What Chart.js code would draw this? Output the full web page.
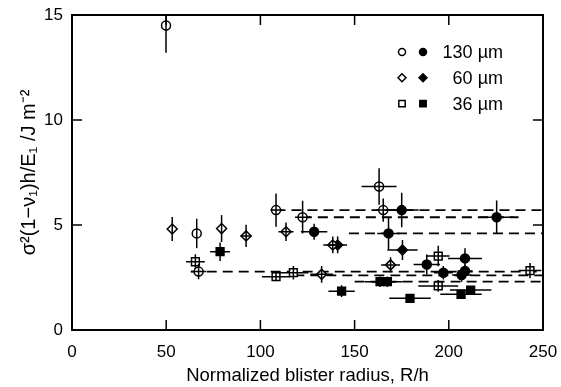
<!DOCTYPE html>
<html lang="en">
<head>
<meta charset="UTF-8">
<title>Blister adhesion</title>
<style>
  html, body { margin: 0; padding: 0; background: #fff; }
  #wrap { width: 561px; height: 387px; }
</style>
</head>
<body>
<div id="wrap"><canvas id="myChart"></canvas></div>

<script src="https://cdn.jsdelivr.net/npm/chart.js"></script>
<script>
// rows: [R/h, value, error in R/h, error in value]
const open130 = [
    [49.9, 14.5, 0, 1.3],
    [66.2, 4.6, 0, 0.7],
    [67.2, 2.78, 4, 0.36],
    [108.3, 5.71, 3, 0.79],
    [122.4, 5.37, 4, 0.78],
    [163, 6.83, 9.3, 0.87],
    [165.2, 5.71, 4, 0.55]
];
const filled130 = [
    [128.5, 4.68, 7, 0.38],
    [168, 4.6, 6, 0.78],
    [175, 5.71, 9, 0.82],
    [188.3, 3.12, 7, 0.47],
    [208.6, 3.41, 9, 0.48],
    [225.4, 5.37, 9, 0.8],
    [197.1, 2.73, 5, 0.32],
    [206.8, 2.62, 5, 0.32],
    [208.6, 2.81, 4, 0.3]
];
const open60 = [
    [53.2, 4.81, 0, 0.57],
    [79.4, 4.83, 0, 0.64],
    [92.4, 4.48, 3, 0.53],
    [113.6, 4.68, 4, 0.44],
    [138.4, 4.05, 5, 0.4],
    [132.5, 2.65, 6, 0.4],
    [169.1, 3.1, 5, 0.36]
];
const filled60 = [
    [141, 4.05, 5, 0.4],
    [175.4, 3.81, 8, 0.48]
];
const open36 = [
    [65.5, 3.25, 5, 0.36],
    [108.3, 2.54, 7.5, 0.22],
    [117.5, 2.73, 8, 0.32],
    [194.4, 3.52, 6, 0.49],
    [194.4, 2.1, 10.6, 0.28],
    [243.1, 2.83, 6, 0.36]
];
const filled36 = [
    [78.6, 3.73, 5.3, 0.44],
    [143.1, 1.85, 7, 0.28],
    [163.5, 2.3, 8, 0.25],
    [167.4, 2.3, 8, 0.25],
    [179.4, 1.51, 11, 0.2],
    [206.5, 1.7, 11, 0.2],
    [211.6, 1.9, 11, 0.2]
];
// mean levels: [from R/h, to R/h, value]
const fits = [
    [108, 250, 5.71],
    [122, 237, 5.37],
    [147, 250, 4.6],
    [63, 250, 2.78],
    [118, 250, 2.6],
    [150, 250, 2.3]
];
const xTicks = [0, 50, 100, 150, 200, 250];
const yTicks = [0, 5, 10, 15];
const legendRows = [
    { label: '130 \u00b5m', style: 'circle', radius: 4.5 },
    { label: '60 \u00b5m', style: 'rectRot', radius: 5 },
    { label: '36 \u00b5m', style: 'rect', radius: 5.5 }
];

const FONT = 'Liberation Sans, Arial, sans-serif';

function pointSet(rows, style, radius, filled) {
    return {
        type: 'scatter',
        rows: rows,
        data: rows.map(r => ({ x: r[0], y: r[1] })),
        pointStyle: style,
        pointRadius: radius,
        pointHoverRadius: radius,
        borderWidth: 1.5,
        borderColor: '#000',
        backgroundColor: filled ? '#000' : '#fff',
        order: 1
    };
}

const fitSets = fits.map(f => ({
    type: 'line',
    data: [{ x: f[0], y: f[2] }, { x: f[1], y: f[2] }],
    borderColor: '#000',
    borderWidth: 1.8,
    borderDash: [10, 6],
    pointRadius: 0,
    fill: false,
    order: 5
}));

// error bars go on top so the open symbols show a cross through them
const errorBars = {
    id: 'errorBars',
    afterDatasetsDraw(chart) {
        const { ctx, chartArea: a, scales: { x, y } } = chart;
        ctx.save();
        ctx.beginPath();
        ctx.rect(a.left, a.top, a.width, a.height);
        ctx.clip();
        ctx.strokeStyle = '#000';
        ctx.lineWidth = 1.5;
        chart.data.datasets.forEach(ds => {
            if (!ds.rows) return;
            ds.rows.forEach(([vx, vy, ex, ey]) => {
                ctx.beginPath();
                if (ex) {
                    ctx.moveTo(x.getPixelForValue(vx - ex), y.getPixelForValue(vy));
                    ctx.lineTo(x.getPixelForValue(vx + ex), y.getPixelForValue(vy));
                }
                if (ey) {
                    ctx.moveTo(x.getPixelForValue(vx), y.getPixelForValue(vy - ey));
                    ctx.lineTo(x.getPixelForValue(vx), y.getPixelForValue(vy + ey));
                }
                ctx.stroke();
            });
        });
        ctx.restore();
    }
};

// box around the plot with inward ticks on all four sides
const frame = {
    id: 'frame',
    afterDraw(chart) {
        const { ctx, chartArea: a, scales: { x, y } } = chart;
        ctx.save();
        ctx.strokeStyle = '#000';
        ctx.lineWidth = 2;
        ctx.strokeRect(a.left, a.top, a.width, a.height);
        ctx.lineWidth = 1.5;
        ctx.beginPath();
        xTicks.slice(1, -1).forEach(v => {
            const px = x.getPixelForValue(v);
            ctx.moveTo(px, a.bottom); ctx.lineTo(px, a.bottom - 10);
            ctx.moveTo(px, a.top); ctx.lineTo(px, a.top + 10);
        });
        yTicks.slice(1, -1).forEach(v => {
            const py = y.getPixelForValue(v);
            ctx.moveTo(a.left, py); ctx.lineTo(a.left + 10, py);
            ctx.moveTo(a.right, py); ctx.lineTo(a.right - 10, py);
        });
        ctx.stroke();
        ctx.restore();
    }
};

// key: open and filled symbol side by side, then the thickness
const keyBox = {
    id: 'keyBox',
    afterDraw(chart) {
        const { ctx, chartArea: a } = chart;
        ctx.save();
        ctx.font = '18px ' + FONT;
        ctx.textAlign = 'right';
        ctx.textBaseline = 'middle';
        legendRows.forEach((row, i) => {
            const cy = a.top + 37 + i * 25.8;
            ctx.lineWidth = 1.5;
            ctx.strokeStyle = '#000';
            ctx.fillStyle = '#fff';
            Chart.helpers.drawPoint(ctx, { pointStyle: row.style, radius: row.radius - 1, borderWidth: 1.5 }, a.right - 141, cy);
            ctx.fillStyle = '#000';
            Chart.helpers.drawPoint(ctx, { pointStyle: row.style, radius: row.radius - 1, borderWidth: 1.5 }, a.right - 120, cy);
            ctx.fillText(row.label, a.right - 40, cy + 1);
        });
        ctx.restore();
    }
};

const ctx = document.getElementById('myChart');

new Chart(ctx, {
    data: {
        datasets: [
            pointSet(open130, 'circle', 4.5, false),
            pointSet(filled130, 'circle', 4.5, true),
            pointSet(open60, 'rectRot', 5, false),
            pointSet(filled60, 'rectRot', 5, true),
            pointSet(open36, 'rect', 5.5, false),
            pointSet(filled36, 'rect', 5.5, true),
            ...fitSets
        ]
    },
    options: {
        responsive: true,
        maintainAspectRatio: false,
        animation: false,
        layout: { padding: { top: 15, right: 18, left: 0, bottom: 0 } },
        plugins: {
            legend: { display: false },
            tooltip: { enabled: false }
        },
        scales: {
            x: {
                type: 'linear',
                min: 0,
                max: 250,
                afterBuildTicks: s => { s.ticks = xTicks.map(v => ({ value: v })); },
                afterFit: s => { s.height = 57; s.paddingLeft = 0; s.paddingRight = 0; },
                grid: { display: false, drawTicks: false },
                border: { display: false },
                ticks: { color: '#000', padding: 12, font: { family: FONT, size: 17 } },
                title: {
                    display: true,
                    text: 'Normalized blister radius, R/h',
                    color: '#000',
                    font: { family: FONT, size: 18.5 },
                    padding: { top: 1, bottom: 0 }
                }
            },
            y: {
                type: 'linear',
                min: 0,
                max: 15,
                afterBuildTicks: s => { s.ticks = yTicks.map(v => ({ value: v })); },
                afterFit: s => { s.width = 72; s.paddingTop = 0; s.paddingBottom = 0; },
                grid: { display: false, drawTicks: false },
                border: { display: false },
                ticks: { color: '#000', padding: 9, font: { family: FONT, size: 17 } },
                title: {
                    display: true,
                    text: '\u03c3\u00b2(1\u2212\u03bd\u2081)h/E\u2081 /J m\u207b\u00b2',
                    color: '#000',
                    font: { family: FONT, size: 20 },
                    padding: { top: 17, bottom: 0 }
                }
            }
        }
    },
    plugins: [errorBars, frame, keyBox]
});
</script>
</body>
</html>
